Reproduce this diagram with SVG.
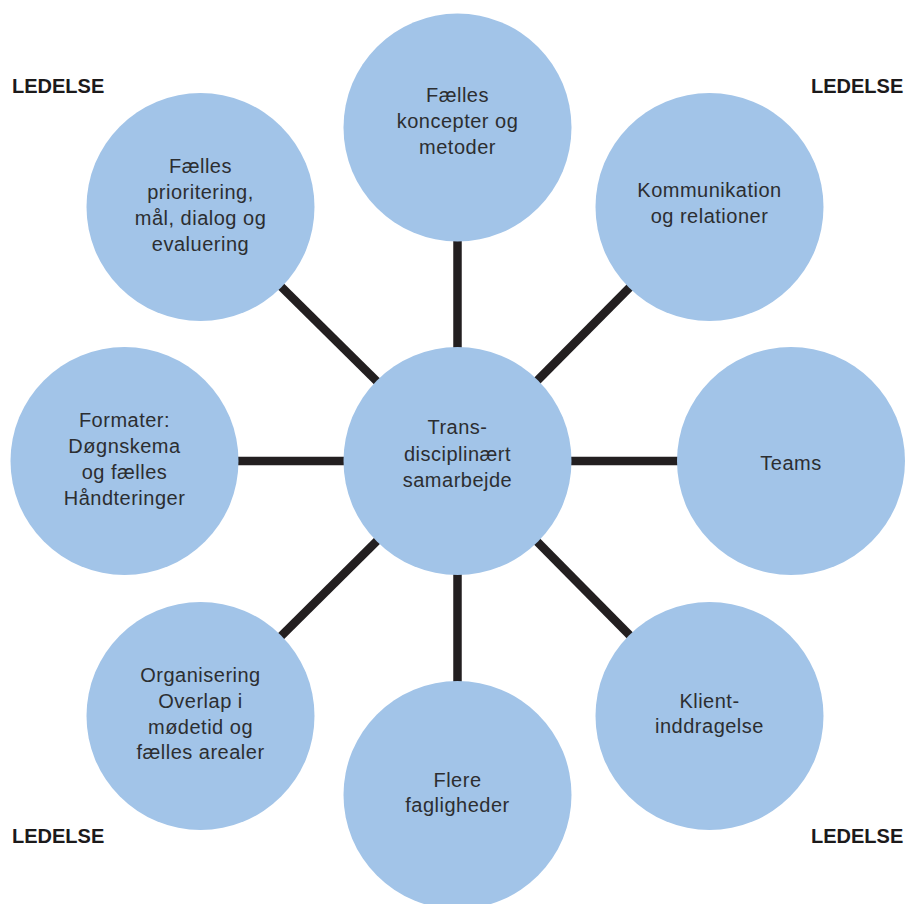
<svg xmlns="http://www.w3.org/2000/svg" width="908" height="904" viewBox="0 0 908 904">
<style>
.n{fill:#a2c4e8}
.t{font-family:"Liberation Sans",Arial,sans-serif;font-size:20px;letter-spacing:0.5px;fill:#2c2e31;text-anchor:middle}
.l{font-family:"Liberation Sans",Arial,sans-serif;font-size:20px;font-weight:bold;fill:#1c1a1b}
.c{stroke:#231f20;stroke-width:8.5}
</style>
<rect width="908" height="904" fill="#fff"/>
<g id="connectors">
<line class="c" x1="457.5" y1="461" x2="457.5" y2="127.5"/>
<line class="c" x1="457.5" y1="461" x2="709.5" y2="207"/>
<line class="c" x1="457.5" y1="461" x2="791" y2="461"/>
<line class="c" x1="457.5" y1="461" x2="709.5" y2="716"/>
<line class="c" x1="457.5" y1="461" x2="457.5" y2="795"/>
<line class="c" x1="457.5" y1="461" x2="200.5" y2="716"/>
<line class="c" x1="457.5" y1="461" x2="124.5" y2="461"/>
<line class="c" x1="457.5" y1="461" x2="200.5" y2="207"/>
</g>
<g id="center">
<circle class="n" cx="457.5" cy="461" r="114"/>
<text class="t" x="457.5" y="434">Trans-</text>
<text class="t" x="457.5" y="461">disciplinært</text>
<text class="t" x="457.5" y="487">samarbejde</text>
</g>
<g id="top">
<circle class="n" cx="457.5" cy="127.5" r="114"/>
<text class="t" x="457.5" y="102">Fælles</text>
<text class="t" x="457.5" y="128">koncepter og</text>
<text class="t" x="457.5" y="154">metoder</text>
</g>
<g id="top-right">
<circle class="n" cx="709.5" cy="207" r="114"/>
<text class="t" x="709.5" y="197">Kommunikation</text>
<text class="t" x="709.5" y="223">og relationer</text>
</g>
<g id="right">
<circle class="n" cx="791" cy="461" r="114"/>
<text class="t" x="791" y="470">Teams</text>
</g>
<g id="bottom-right">
<circle class="n" cx="709.5" cy="716" r="114"/>
<text class="t" x="709.5" y="708">Klient-</text>
<text class="t" x="709.5" y="733">inddragelse</text>
</g>
<g id="bottom">
<circle class="n" cx="457.5" cy="795" r="114"/>
<text class="t" x="457.5" y="787">Flere</text>
<text class="t" x="457.5" y="812">fagligheder</text>
</g>
<g id="bottom-left">
<circle class="n" cx="200.5" cy="716" r="114"/>
<text class="t" x="200.5" y="682">Organisering</text>
<text class="t" x="200.5" y="708">Overlap i</text>
<text class="t" x="200.5" y="734">mødetid og</text>
<text class="t" x="200.5" y="759">fælles arealer</text>
</g>
<g id="left">
<circle class="n" cx="124.5" cy="461" r="114"/>
<text class="t" x="124.5" y="427">Formater:</text>
<text class="t" x="124.5" y="453">Døgnskema</text>
<text class="t" x="124.5" y="479">og fælles</text>
<text class="t" x="124.5" y="505">Håndteringer</text>
</g>
<g id="top-left">
<circle class="n" cx="200.5" cy="207" r="114"/>
<text class="t" x="200.5" y="173">Fælles</text>
<text class="t" x="200.5" y="199">prioritering,</text>
<text class="t" x="200.5" y="225">mål, dialog og</text>
<text class="t" x="200.5" y="251">evaluering</text>
</g>
<g id="ledelse-labels">
<text class="l" x="12" y="93">LEDELSE</text>
<text class="l" x="811" y="93">LEDELSE</text>
<text class="l" x="12" y="843">LEDELSE</text>
<text class="l" x="811" y="843">LEDELSE</text>
</g>
</svg>
